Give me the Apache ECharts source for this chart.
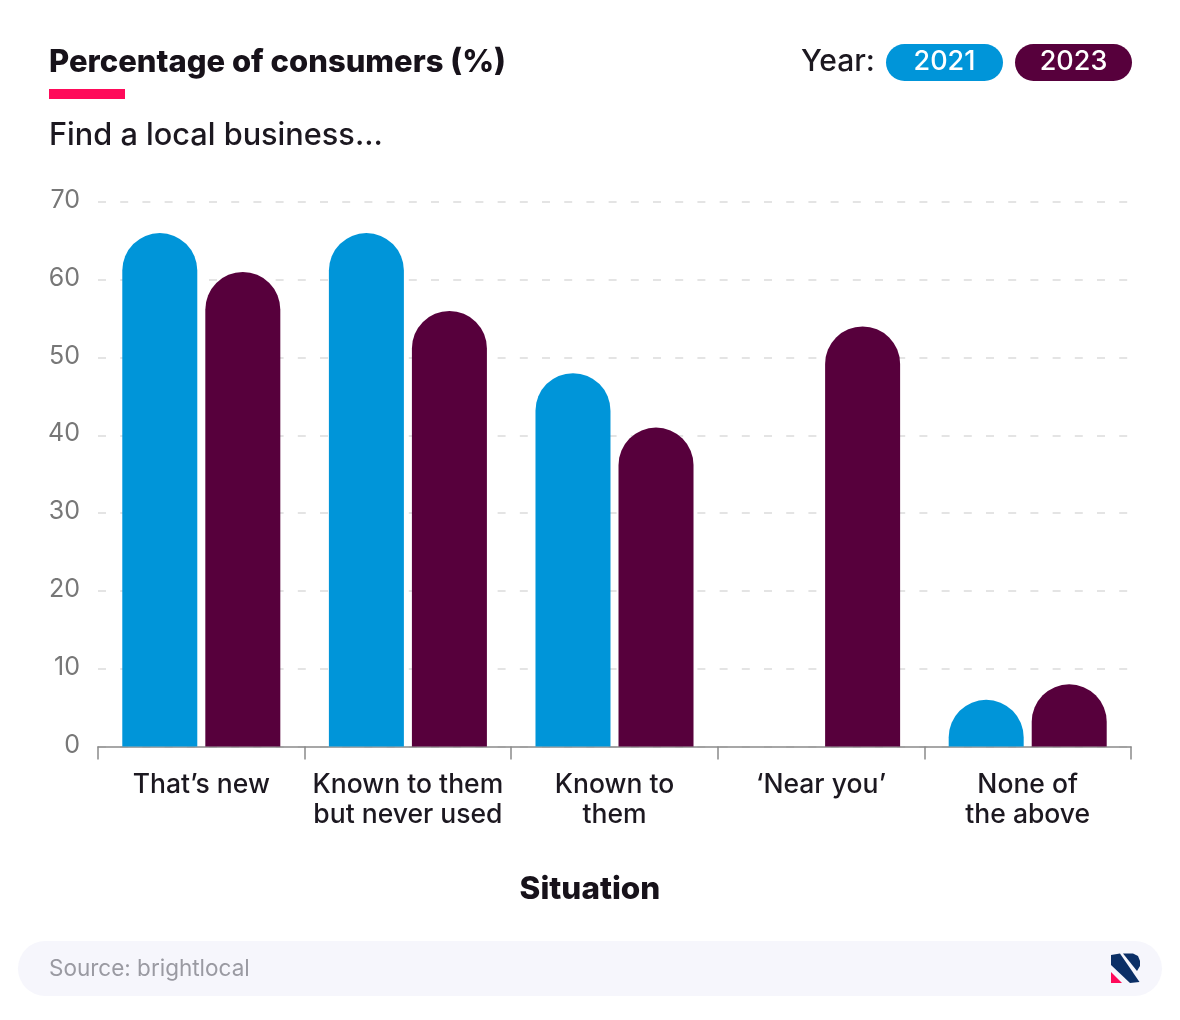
<!DOCTYPE html>
<html>
<head>
<meta charset="utf-8">
<style>
  html, body { margin: 0; padding: 0; background: #fff; }
  #main { width: 1180px; height: 1020px; }
</style>
<script src="https://cdn.jsdelivr.net/npm/echarts@6/dist/echarts.min.js"></script>
</head>
<body>
<div id="main"></div>
<script>
const categories = ['That’s new', 'Known to them\nbut never used', 'Known to\nthem', '‘Near you’', 'None of\nthe above'];
const values2021 = [66, 66, 48, null, 6];
const values2023 = [61, 56, 41, 54, 8];

const BLUE = '#0095d9';
const PLUM = '#57003c';
const FONT = 'Inter';

// pill shaped legend entry
function pill(x, label, color) {
  return {
    type: 'group',
    children: [
      { type: 'rect', shape: { x: x, y: 44, width: 117, height: 37, r: 18.5 }, style: { fill: color } },
      { type: 'text', x: x + 58.5, y: 62, style: { text: label, fill: '#fff', font: '500 27px ' + FONT, align: 'center', verticalAlign: 'middle' } }
    ]
  };
}

const chart = echarts.init(document.getElementById('main'));
chart.setOption({
  backgroundColor: '#fff',
  animation: false,
  textStyle: { fontFamily: FONT },
  title: [
    { text: 'Percentage of consumers (%)', left: 44, top: 42, textStyle: { fontSize: 31, fontWeight: 800, color: '#17121a', fontFamily: FONT } },
    { text: 'Find a local business...', left: 44, top: 115, textStyle: { fontSize: 30.7, fontWeight: 500, color: '#1c1820', fontFamily: FONT } }
  ],
  grid: { left: 98, right: 49, top: 202, height: 544.5, containLabel: false },
  xAxis: {
    type: 'category',
    data: categories,
    name: 'Situation',
    nameLocation: 'middle',
    nameGap: 127,
    // the title sits on the page centre, not the plot centre
    nameTextStyle: { fontSize: 31.5, fontWeight: 800, color: '#17121a', fontFamily: FONT, padding: [0, 49, 0, 0] },
    axisLine: { lineStyle: { color: '#8a8a8a', width: 1.5 } },
    axisTick: { show: true, length: 13, alignWithLabel: false, lineStyle: { color: '#8a8a8a', width: 1.5 } },
    axisLabel: { fontSize: 26.5, fontWeight: 500, lineHeight: 29.5, color: '#1c1820', margin: 24, interval: 0, fontFamily: FONT }
  },
  yAxis: {
    type: 'value',
    min: 0,
    max: 70,
    interval: 10,
    axisLine: { show: false },
    axisTick: { show: false },
    // small line box anchored at its bottom lifts the numbers just above the gridline
    axisLabel: { fontSize: 25, color: '#777', margin: 18, verticalAlign: 'bottom', lineHeight: 3, fontFamily: FONT },
    splitLine: { lineStyle: { color: '#dcdcdc', width: 1.5, type: [8, 14.2] } }
  },
  series: [
    { name: '2021', type: 'bar', data: values2021, barWidth: 75, barGap: '10.7%', itemStyle: { color: BLUE, borderRadius: [37.5, 37.5, 0, 0] } },
    { name: '2023', type: 'bar', data: values2023, barWidth: 75, itemStyle: { color: PLUM, borderRadius: [37.5, 37.5, 0, 0] } }
  ],
  graphic: [
    { type: 'rect', shape: { x: 49, y: 89, width: 76, height: 10 }, style: { fill: '#ff0a5a' } },
    { type: 'text', x: 801, y: 62, style: { text: 'Year:', fill: '#1c1820', font: '500 30px ' + FONT, verticalAlign: 'middle' } },
    pill(886, '2021', BLUE),
    pill(1015, '2023', PLUM),
    { type: 'rect', z: -1, shape: { x: 18, y: 941, width: 1144, height: 55, r: 27.5 }, style: { fill: '#f6f6fc' } },
    { type: 'text', x: 49, y: 969, style: { text: 'Source: brightlocal', fill: '#9a9aa2', font: '400 22.5px ' + FONT, verticalAlign: 'middle' } },
    // logo
    { type: 'polygon', shape: { points: [[1111, 955], [1120, 953.5], [1139.5, 982], [1130, 983], [1111, 965]] }, style: { fill: '#0b2f66' } },
    { type: 'polygon', shape: { points: [[1123, 953.5], [1133, 953.5], [1138, 956], [1140, 961], [1140, 966], [1137, 971]] }, style: { fill: '#0b2f66' } },
    { type: 'polygon', shape: { points: [[1111, 972], [1122, 983], [1111, 983]] }, style: { fill: '#ff0a5a' } }
  ]
});
</script>
</body>
</html>
